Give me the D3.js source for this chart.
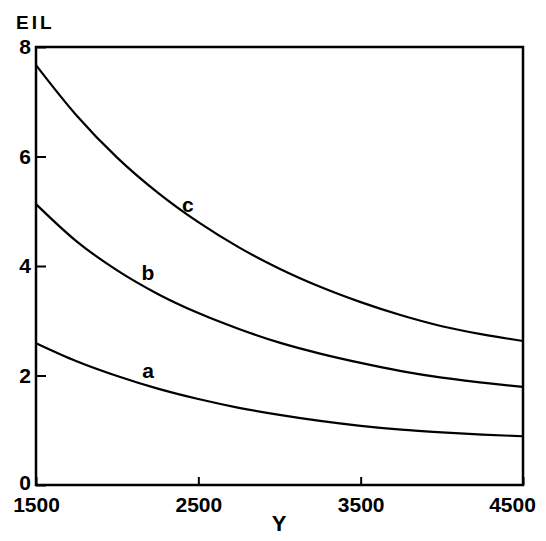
<!DOCTYPE html>
<html>
<head>
<meta charset="utf-8">
<script src="https://cdn.jsdelivr.net/npm/d3@7"></script>
<style>
  body { margin: 0; background: #fff; }
  svg text { font-family: "Liberation Sans", Arial, sans-serif; font-weight: bold; fill: #000; }
</style>
</head>
<body>
<svg id="chart" width="546" height="541"></svg>
<script>
const yearsY = [1500, 1750, 2000, 2250, 2500, 2750, 3000, 3250, 3500, 3750, 4000, 4250, 4500];
const seriesA = [2.59, 2.26, 1.99, 1.76, 1.57, 1.41, 1.28, 1.17, 1.08, 1.01, 0.96, 0.92, 0.89];
const seriesB = [5.13, 4.45, 3.92, 3.49, 3.14, 2.85, 2.60, 2.40, 2.23, 2.08, 1.96, 1.87, 1.79];
const seriesC = [7.67, 6.75, 5.98, 5.34, 4.80, 4.34, 3.95, 3.62, 3.34, 3.10, 2.90, 2.75, 2.63];
const seriesNames = ["a", "b", "c"];
const labelAt = [2190, 2190, 2436];
const labelVal = [1.95, 3.74, 4.99];
const xTicks = [1500, 2500, 3500, 4500];
const yTicks = [0, 2, 4, 6, 8];

const svg = d3.select("#chart");
const mLeft = 36, mRight = 523, mTop = 47, mBottom = 485;
const x = d3.scaleLinear().domain([1500, 4500]).range([mLeft, mRight]);
const y = d3.scaleLinear().domain([0, 8]).range([mBottom, mTop]);

// frame
svg.append("rect").attr("x", mLeft).attr("y", mTop)
  .attr("width", mRight - mLeft).attr("height", mBottom - mTop)
  .attr("fill", "none").attr("stroke", "#000").attr("stroke-width", 2.5);

// y axis (ticks inward)
const yAxis = d3.axisLeft(y).tickValues(yTicks).tickSize(-10).tickPadding(16).tickFormat(d3.format("d"));
const gy = svg.append("g").attr("transform", `translate(${mLeft},0)`).call(yAxis);
gy.select(".domain").remove();
gy.selectAll(".tick line").attr("stroke", "#000").attr("stroke-width", 2);
gy.selectAll(".tick text").attr("font-size", 21).attr("x", -5)
  .attr("dy", d => d === 0 ? "0.2em" : "0.33em");

// x axis (ticks inward)
const xAxis = d3.axisBottom(x).tickValues(xTicks).tickSize(-8).tickPadding(10).tickFormat(d3.format("d"));
const gx = svg.append("g").attr("transform", `translate(0,${mBottom})`).call(xAxis);
gx.select(".domain").remove();
gx.selectAll(".tick line").attr("stroke", "#000").attr("stroke-width", 2);
gx.selectAll(".tick text").attr("font-size", 21).attr("y", 12).attr("dy", "0.71em")
  .attr("dx", d => d === 4500 ? -11 : 0);

// axis titles
svg.append("text").attr("x", 16).attr("y", 29).attr("font-size", 19).attr("letter-spacing", 3).text("EIL");
svg.append("text").attr("x", 279).attr("y", 531).attr("text-anchor", "middle").attr("font-size", 22).text("Y");

// curves
const line = d3.line().x(d => x(d[0])).y(d => y(d[1])).curve(d3.curveMonotoneX);
const all = [seriesA, seriesB, seriesC];
all.forEach((s, i) => {
  svg.append("path").datum(yearsY.map((v, j) => [v, s[j]]))
    .attr("d", line).attr("fill", "none").attr("stroke", "#000").attr("stroke-width", 2.2);
  svg.append("text").attr("x", x(labelAt[i])).attr("y", y(labelVal[i]))
    .attr("text-anchor", "middle").attr("font-size", 21).text(seriesNames[i]);
});
</script>
</body>
</html>
